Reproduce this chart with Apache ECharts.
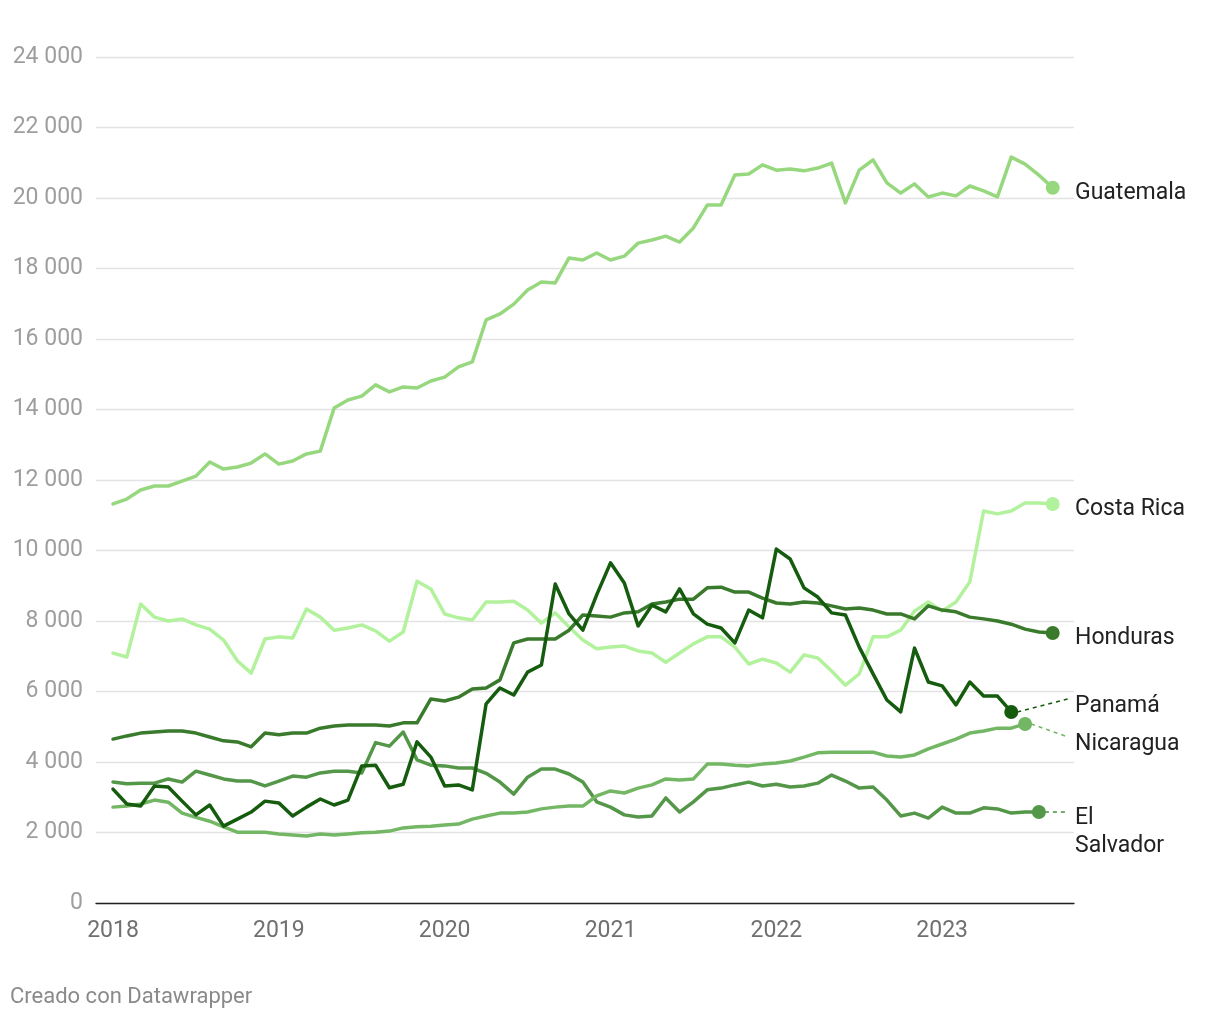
<!DOCTYPE html>
<html>
<head>
<meta charset="utf-8">
<script src="https://cdn.jsdelivr.net/npm/echarts@6/dist/echarts.min.js"></script>
<style>
html,body{margin:0;padding:0;background:#fff;}
#chart{width:1220px;height:1020px;}
</style>
</head>
<body>
<div id="chart"></div>
<script>
// Monthly values, index 0 = January 2018
var yearLabels = ['2018', '2019', '2020', '2021', '2022', '2023'];
var yearTickIndex = [0, 12, 24, 36, 48, 60];

var guatemala = [11320, 11460, 11716, 11830, 11830, 11970, 12110, 12510, 12310, 12370, 12480, 12740,
  12450, 12540, 12740, 12820, 14040, 14270, 14380, 14700, 14500, 14640, 14610, 14810,
  14920, 15210, 15350, 16540, 16710, 16990, 17390, 17620, 17590, 18300, 18240, 18440,
  18240, 18350, 18720, 18810, 18920, 18750, 19150, 19800, 19800, 20650, 20680, 20940,
  20790, 20820, 20770, 20850, 20990, 19860, 20790, 21080, 20430, 20140, 20400, 20030,
  20140, 20060, 20340, 20200, 20030, 21160, 20960, 20650, 20290];

var costaRica = [7090, 6980, 8480, 8110, 8000, 8060, 7890, 7770, 7460, 6870, 6520, 7490,
  7550, 7520, 8340, 8110, 7740, 7800, 7890, 7720, 7430, 7690, 9130, 8910,
  8200, 8090, 8030, 8540, 8540, 8560, 8310, 7940, 8230, 7830, 7460, 7210,
  7260, 7290, 7150, 7090, 6830, 7090, 7350, 7550, 7550, 7260, 6780, 6920,
  6810, 6550, 7040, 6950, 6580, 6180, 6500, 7550, 7550, 7740, 8280, 8540,
  8280, 8540, 9110, 11120, 11040, 11120, 11350, 11350, 11320];

var honduras = [4650, 4740, 4820, 4850, 4880, 4880, 4820, 4710, 4600, 4570, 4430, 4820,
  4770, 4820, 4820, 4960, 5020, 5050, 5050, 5050, 5020, 5110, 5110, 5790,
  5730, 5840, 6070, 6100, 6330, 7380, 7490, 7490, 7490, 7740, 8170, 8140,
  8110, 8230, 8260, 8480, 8540, 8620, 8620, 8940, 8960, 8820, 8820, 8650,
  8510, 8480, 8540, 8510, 8430, 8340, 8370, 8310, 8200, 8200, 8060, 8430,
  8310, 8260, 8110, 8060, 8000, 7910, 7770, 7690, 7660];

var panama = [3230, 2810, 2750, 3320, 3290, 2890, 2500, 2780, 2180, 2380, 2580, 2890,
  2840, 2470, 2720, 2950, 2780, 2920, 3890, 3910, 3270, 3370, 4570, 4140,
  3320, 3350, 3210, 5650, 6100, 5900, 6550, 6750, 9050, 8200, 7740, 8740,
  9650, 9080, 7860, 8450, 8260, 8910, 8200, 7910, 7800, 7380, 8310, 8090,
  10040, 9760, 8940, 8680, 8230, 8170, 7260, 6500, 5760, 5420, 7230, 6270,
  6160, 5620, 6270, 5870, 5870, 5420];

var nicaragua = [2720, 2750, 2810, 2920, 2860, 2550, 2430, 2320, 2160, 2010, 2010, 2010,
  1960, 1930, 1900, 1960, 1930, 1960, 1990, 2010, 2040, 2130, 2160, 2180,
  2210, 2240, 2380, 2470, 2550, 2550, 2580, 2670, 2720, 2750, 2750, 3040,
  3180, 3120, 3260, 3350, 3520, 3490, 3520, 3940, 3940, 3910, 3890, 3940,
  3970, 4030, 4140, 4260, 4280, 4280, 4280, 4280, 4170, 4140, 4200, 4370,
  4510, 4650, 4820, 4880, 4960, 4960, 5080];

var elSalvador = [3430, 3380, 3400, 3400, 3520, 3430, 3740, 3630, 3520, 3460, 3460, 3320,
  3460, 3600, 3570, 3690, 3740, 3740, 3690, 4550, 4450, 4850, 4060, 3910,
  3890, 3830, 3830, 3680, 3430, 3090, 3570, 3800, 3800, 3660, 3430, 2870,
  2720, 2500, 2440, 2470, 2980, 2580, 2870, 3210, 3260, 3350, 3430, 3320,
  3370, 3290, 3320, 3400, 3630, 3460, 3260, 3290, 2920, 2470, 2550, 2410,
  2720, 2550, 2550, 2700, 2670, 2550, 2580, 2580];

var seriesDefs = [
  {name: 'Guatemala', data: guatemala, color: '#97d87f', label: ['Guatemala'], dy: 5, dash: false},
  {name: 'Costa Rica', data: costaRica, color: '#b3f29c', label: ['Costa Rica'], dy: 5, dash: false},
  {name: 'El Salvador', data: elSalvador, color: '#549749', label: ['El', 'Salvador'], dy: 6, dash: true, cdy: 0},
  {name: 'Nicaragua', data: nicaragua, color: '#73b765', label: ['Nicaragua'], dy: 20, dash: true, cdy: 13},
  {name: 'Honduras', data: honduras, color: '#3a7a2c', label: ['Honduras'], dy: 5, dash: false},
  {name: 'Panamá', data: panama, color: '#155c0f', label: ['Panamá'], dy: -6, dash: true, cdy: -13}
];

function toPairs(arr) {
  return arr.map(function (v, i) { return [i, v]; });
}

var series = seriesDefs.map(function (s) {
  var pairs = toPairs(s.data);
  return {
    name: s.name,
    type: 'line',
    data: pairs,
    showSymbol: false,
    symbol: 'none',
    smooth: false,
    lineStyle: {color: s.color, width: 3.5, join: 'round', cap: 'round'},
    itemStyle: {color: s.color},
    emphasis: {disabled: true},
    silent: true,
    markPoint: {
      symbol: 'circle',
      symbolSize: 14,
      label: {show: false},
      itemStyle: {color: s.color},
      data: [{coord: pairs[pairs.length - 1]}],
      silent: true,
      animation: false
    },
    z: 2
  };
});

var chart = echarts.init(document.getElementById('chart'), null, {renderer: 'canvas'});
var fmt = function (v) {
  var s = String(Math.round(v));
  return s.replace(/\B(?=(\d{3})+(?!\d))/g, ' ');
};
chart.setOption({
  animation: false,
  backgroundColor: '#ffffff',
  grid: {left: 96, right: 146, top: 57, bottom: 117, containLabel: false},
  xAxis: {
    type: 'value',
    min: -1.23,
    max: 69.54,
    splitLine: {show: false},
    axisLine: {show: true, onZero: false, lineStyle: {color: '#222', width: 1.3}},
    axisTick: {show: false},
    axisLabel: {
      show: true,
      customValues: yearTickIndex,
      formatter: function (v) { return yearLabels[yearTickIndex.indexOf(Math.round(v))] || ''; },
      color: '#707070',
      fontFamily: 'Roboto',
      fontSize: 23,
      margin: 17
    }
  },
  yAxis: {
    type: 'value',
    min: 0,
    max: 24000,
    interval: 2000,
    axisLine: {show: false},
    axisTick: {show: false},
    splitLine: {show: true, lineStyle: {color: '#e3e3e3', width: 1.3}},
    axisLabel: {
      formatter: fmt,
      color: '#9e9e9e',
      fontFamily: 'Roboto',
      fontSize: 23,
      margin: 13
    }
  },
  series: series
});

// Labels and dashed connectors, positioned from the last data point of each series
var graphics = [];
var labelX = 1075;
seriesDefs.forEach(function (s) {
  var last = s.data.length - 1;
  var p = chart.convertToPixel({gridIndex: 0}, [last, s.data[last]]);
  var ly = p[1] + s.dy;
  s.label.forEach(function (line, k) {
    graphics.push({
      type: 'text',
      x: labelX,
      y: ly + k * 28,
      style: {
        text: line,
        fill: '#222222',
        font: '23px Roboto',
        textAlign: 'left',
        textVerticalAlign: 'middle'
      },
      silent: true,
      z: 10
    });
  });
  if (s.dash) {
    graphics.push({
      type: 'line',
      shape: {x1: p[0] + 6, y1: p[1], x2: 1068, y2: p[1] + s.cdy},
      style: {stroke: s.color, lineWidth: 1.6, lineDash: [4, 4]},
      silent: true,
      z: 1
    });
  }
});
graphics.push({
  type: 'text',
  x: 10,
  y: 997,
  style: {
    text: 'Creado con Datawrapper',
    fill: '#8a8a8a',
    font: '22px Roboto',
    textAlign: 'left',
    textVerticalAlign: 'middle'
  },
  silent: true
});
chart.setOption({graphic: graphics});
</script>
</body>
</html>
